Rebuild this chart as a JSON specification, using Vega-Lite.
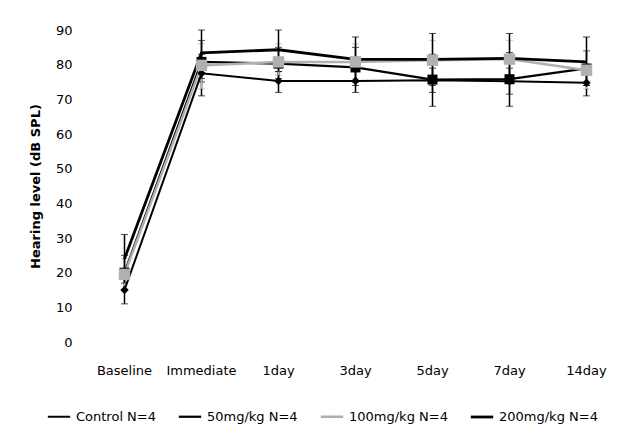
{
  "$schema": "https://vega.github.io/schema/vega-lite/v6.json",
  "width": 539,
  "height": 312,
  "autosize": {"type": "none"},
  "padding": {"left": 86, "top": 30, "right": 11, "bottom": 95},
  "background": "white",
  "config": {
    "view": {"stroke": null},
    "font": "DejaVu Sans",
    "axis": {"labelFont": "DejaVu Sans", "titleFont": "DejaVu Sans"}
  },
  "data": {
    "values": [
      {"series": "Control N=4", "time": "Baseline", "value": 15, "lo": 11, "hi": 19},
      {"series": "Control N=4", "time": "Immediate", "value": 77.5, "lo": 71, "hi": 83},
      {"series": "Control N=4", "time": "1day", "value": 75.3, "lo": 72, "hi": 78},
      {"series": "Control N=4", "time": "3day", "value": 75.3, "lo": 72, "hi": 78.5},
      {"series": "Control N=4", "time": "5day", "value": 75.5, "lo": 72, "hi": 79},
      {"series": "Control N=4", "time": "7day", "value": 75.2, "lo": 71.5, "hi": 79},
      {"series": "Control N=4", "time": "14day", "value": 74.8, "lo": 71, "hi": 78.5},
      {"series": "50mg/kg N=4", "time": "Baseline", "value": 20, "lo": 15, "hi": 25},
      {"series": "50mg/kg N=4", "time": "Immediate", "value": 80.8, "lo": 75, "hi": 87},
      {"series": "50mg/kg N=4", "time": "1day", "value": 80.3, "lo": 76, "hi": 85},
      {"series": "50mg/kg N=4", "time": "3day", "value": 79.2, "lo": 74, "hi": 85},
      {"series": "50mg/kg N=4", "time": "5day", "value": 75.7, "lo": 68, "hi": 83},
      {"series": "50mg/kg N=4", "time": "7day", "value": 75.8, "lo": 68, "hi": 83.5},
      {"series": "50mg/kg N=4", "time": "14day", "value": 78.9, "lo": 74, "hi": 84},
      {"series": "100mg/kg N=4", "time": "Baseline", "value": 19.5, "lo": 15, "hi": 24},
      {"series": "100mg/kg N=4", "time": "Immediate", "value": 79.8, "lo": 73, "hi": 86},
      {"series": "100mg/kg N=4", "time": "1day", "value": 80.8, "lo": 77, "hi": 86},
      {"series": "100mg/kg N=4", "time": "3day", "value": 80.8, "lo": 76, "hi": 86},
      {"series": "100mg/kg N=4", "time": "5day", "value": 81.3, "lo": 75, "hi": 87},
      {"series": "100mg/kg N=4", "time": "7day", "value": 81.6, "lo": 76, "hi": 87},
      {"series": "100mg/kg N=4", "time": "14day", "value": 78.4, "lo": 73, "hi": 84},
      {"series": "200mg/kg N=4", "time": "Baseline", "value": 24, "lo": 17, "hi": 31},
      {"series": "200mg/kg N=4", "time": "Immediate", "value": 83.4, "lo": 76, "hi": 90},
      {"series": "200mg/kg N=4", "time": "1day", "value": 84.3, "lo": 78, "hi": 90},
      {"series": "200mg/kg N=4", "time": "3day", "value": 81.5, "lo": 75, "hi": 88},
      {"series": "200mg/kg N=4", "time": "5day", "value": 81.5, "lo": 74, "hi": 89},
      {"series": "200mg/kg N=4", "time": "7day", "value": 81.8, "lo": 75, "hi": 89},
      {"series": "200mg/kg N=4", "time": "14day", "value": 80.8, "lo": 74, "hi": 88}
    ]
  },
  "encoding": {
    "x": {
      "field": "time", "type": "nominal",
      "sort": ["Baseline", "Immediate", "1day", "3day", "5day", "7day", "14day"],
      "scale": {"type": "band", "paddingInner": 0, "paddingOuter": 0},
      "axis": {"title": null, "domain": false, "ticks": false, "labelAngle": 0, "labelPadding": 22, "labelFontSize": 13, "labelColor": "#000"}
    },
    "color": {"field": "series", "type": "nominal",
      "scale": {"domain": ["Control N=4", "50mg/kg N=4", "100mg/kg N=4", "200mg/kg N=4"], "range": ["#000000", "#000000", "#b0b0b0", "#000000"]},
      "legend": {"title": null, "orient": "none", "legendX": -40, "legendY": 374, "direction": "horizontal", "columns": 4, "labelFontSize": 13, "labelColor": "#000", "symbolType": "stroke", "symbolStrokeWidth": 2.5, "symbolSize": 500, "symbolOpacity": 1, "columnPadding": 17, "labelLimit": 200}}
  },
  "layer": [
    {
      "mark": {"type": "errorbar", "ticks": {"size": 7, "strokeWidth": 1.5}, "rule": {"strokeWidth": 1.5}},
      "encoding": {
        "y": {"field": "lo", "type": "quantitative", "scale": {"domain": [0, 90]},
          "axis": {"title": "Hearing level (dB SPL)", "domain": false, "ticks": false, "grid": false, "values": [0,10,20,30,40,50,60,70,80,90], "tickCount": 10, "labelOverlap": false, "labelPadding": 14, "labelFontSize": 13, "labelColor": "#000", "titleFontSize": 13, "titleFontWeight": "bold", "titlePadding": 13, "titleColor": "#000"}},
        "y2": {"field": "hi"}
      }
    },
    {
      "mark": {"type": "line"},
      "encoding": {
        "y": {"field": "value", "type": "quantitative",
          "axis": {"title": "Hearing level (dB SPL)", "domain": false, "ticks": false, "grid": false, "values": [0,10,20,30,40,50,60,70,80,90], "tickCount": 10, "labelOverlap": false, "labelPadding": 14, "labelFontSize": 13, "labelColor": "#000", "titleFontSize": 13, "titleFontWeight": "bold", "titlePadding": 13, "titleColor": "#000"}},
        "strokeWidth": {"field": "series", "type": "nominal", "legend": null,
          "scale": {"domain": ["Control N=4", "50mg/kg N=4", "100mg/kg N=4", "200mg/kg N=4"], "range": [2, 2.8, 3.5, 2.8]}}
      }
    },
    {
      "transform": [{"filter": "datum.series !== '200mg/kg N=4'"}],
      "mark": {"type": "point", "filled": true, "opacity": 1},
      "encoding": {
        "y": {"field": "value", "type": "quantitative"},
        "shape": {"field": "series", "type": "nominal", "legend": null,
          "scale": {"domain": ["Control N=4", "50mg/kg N=4", "100mg/kg N=4"], "range": ["diamond", "square", "square"]}},
        "size": {"field": "series", "type": "nominal", "legend": null,
          "scale": {"domain": ["Control N=4", "50mg/kg N=4", "100mg/kg N=4"], "range": [70, 130, 90]}}
      }
    }
  ]
}
